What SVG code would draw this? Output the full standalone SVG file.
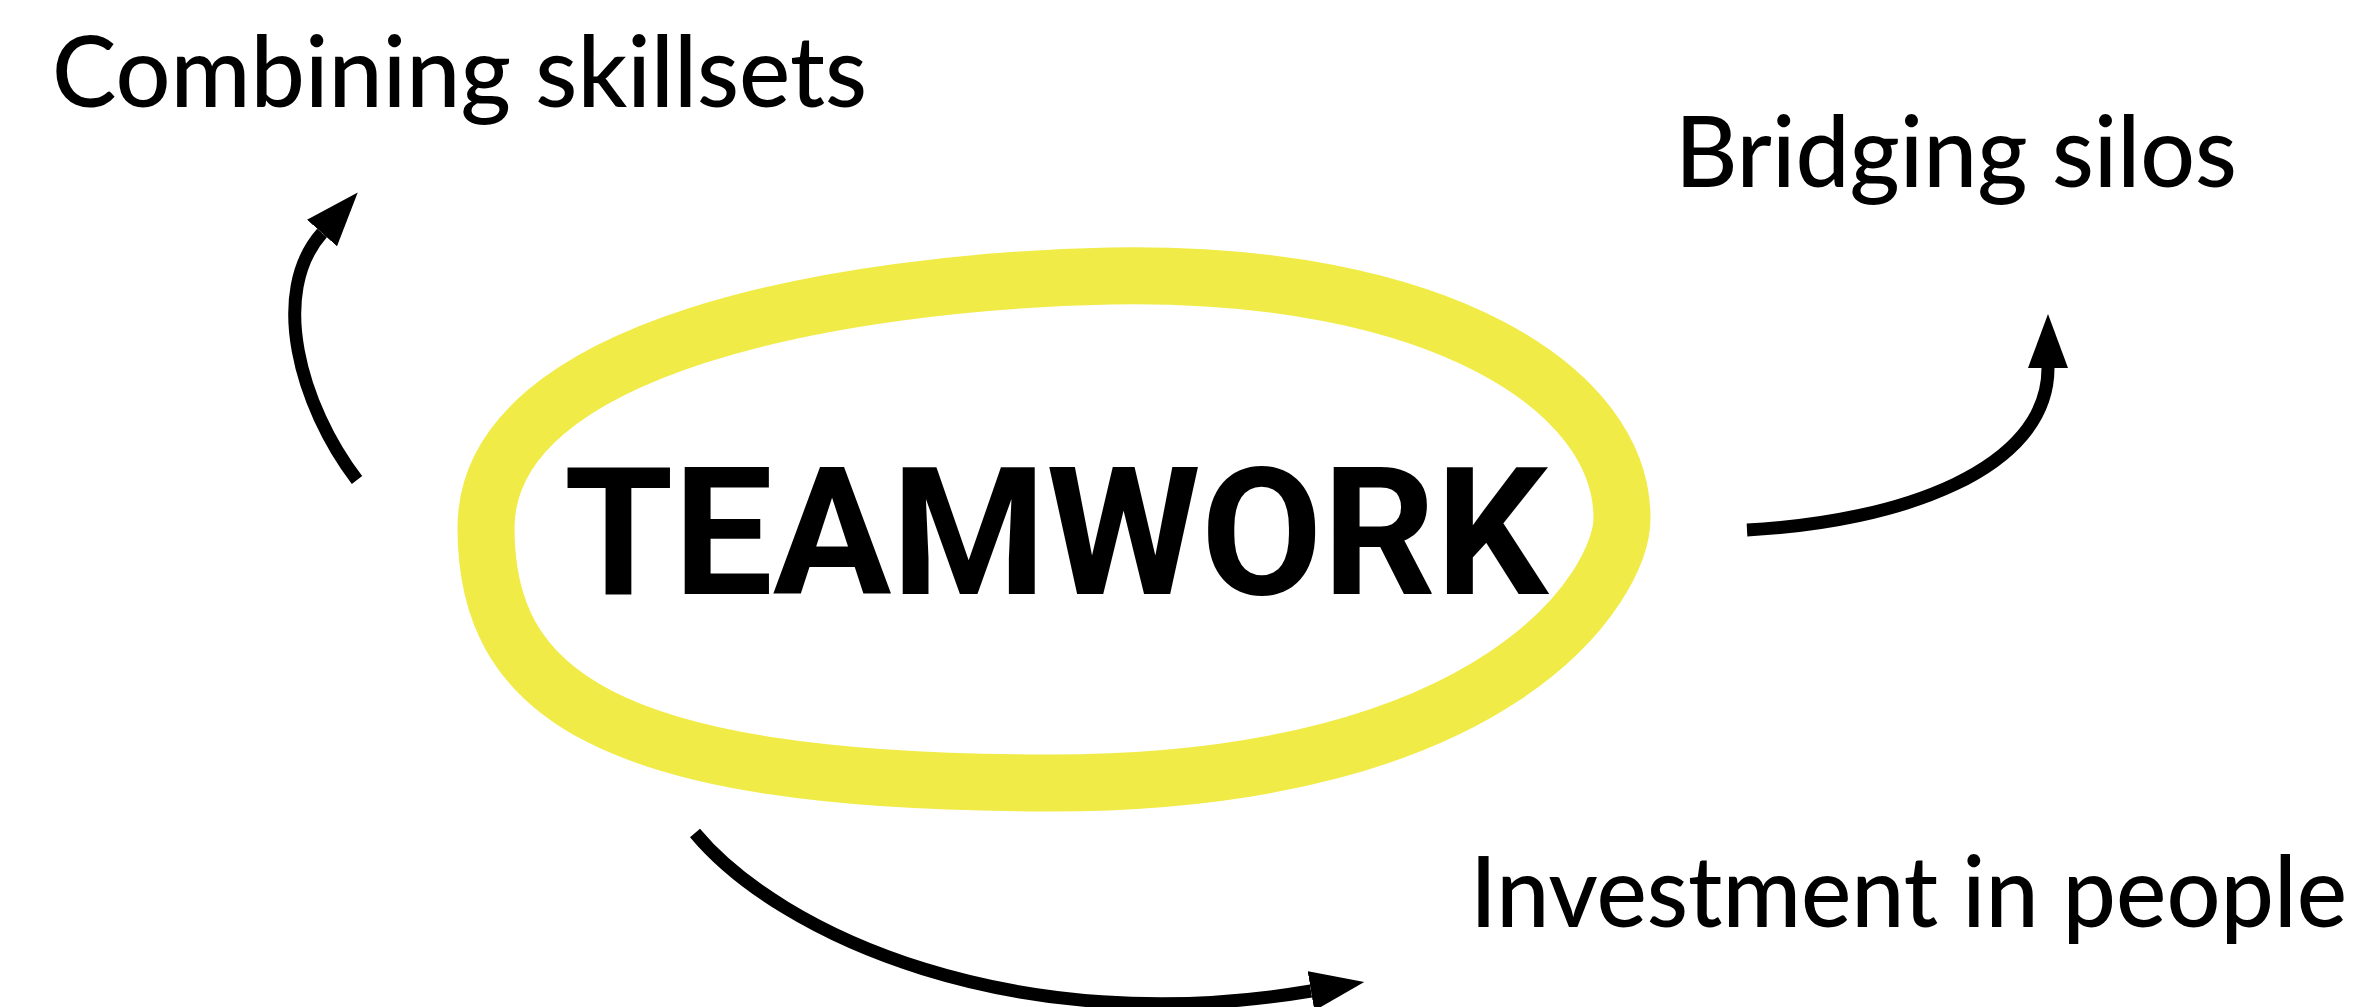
<svg xmlns="http://www.w3.org/2000/svg" width="2353" height="1007" viewBox="0 0 2353 1007">
  <style>
    .label { font-family: Lato, "Open Sans", "DejaVu Sans", sans-serif; font-weight: 500; font-size: 98px; fill: #000; }
    .title { font-family: Roboto, "Liberation Sans", sans-serif; font-weight: 700; font-size: 178px; fill: #000; }
    .conn { fill: none; stroke: #000; stroke-width: 13; stroke-linecap: butt; }
    .loop { fill: none; stroke: #F0EB46; stroke-width: 57; }
  </style>
  <defs>
    <marker id="head" viewBox="0 0 54 40" refX="0" refY="20" markerWidth="54" markerHeight="40" markerUnits="userSpaceOnUse" orient="auto">
      <path d="M0,0 L54,20 L0,40 Z" fill="#000"/>
    </marker>
  </defs>
  <rect width="2353" height="1007" fill="#fff"/>

  <g id="teamwork">
    <path class="loop" d="M486,528 C486,345 840,282 1110,276 C1441,270 1622,390 1622,518 C1622,585 1501,783 1050,783 C600,783 486,690 486,528 Z"/>
    <text class="title" x="564" y="594" textLength="984" lengthAdjust="spacingAndGlyphs">TEAMWORK</text>
  </g>

  <g id="combining-skillsets">
    <text class="label" x="52" y="107" textLength="815" lengthAdjust="spacingAndGlyphs">Combining skillsets</text>
  </g>

  <g id="bridging-silos">
    <text class="label" x="1675" y="187" textLength="562" lengthAdjust="spacingAndGlyphs">Bridging silos</text>
  </g>

  <g id="investment-in-people">
    <text class="label" x="1470" y="927" textLength="877" lengthAdjust="spacingAndGlyphs">Investment in people</text>
  </g>

  <g id="connectors">
    <path class="conn" d="M357,480 C300,405 269,293 322,233" marker-end="url(#head)"/>
    <path class="conn" d="M1747,530 C1900,522 2048,470 2048,368" marker-end="url(#head)"/>
    <path class="conn" d="M695,833 C780,935 1015,1041 1311,991" marker-end="url(#head)"/>
  </g>
</svg>
